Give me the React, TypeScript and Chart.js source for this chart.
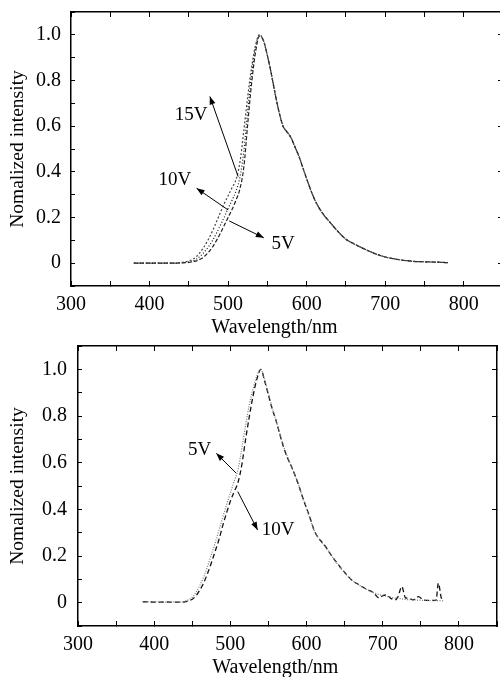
import React, { useEffect, useRef } from 'react';
import { Chart, registerables } from 'chart.js';

Chart.register(...registerables);

// ---------- data ----------
const topWavelengths = [380, 390, 400, 410, 420, 430, 440, 445, 450, 455, 460, 465, 470, 475, 480, 485, 490, 495, 500, 505, 510, 515, 520, 525, 530, 535, 540, 545, 550, 555, 560, 565, 570, 575, 580, 585, 590, 595, 600, 610, 620, 630, 640, 650, 660, 670, 680, 690, 700, 710, 720, 730, 740, 750, 760, 770, 780];
const top15V = [0, 0, 0, 0, 0, 0, 0.003, 0.005, 0.01, 0.017, 0.03, 0.05, 0.075, 0.105, 0.14, 0.18, 0.22, 0.26, 0.295, 0.33, 0.365, 0.44, 0.58, 0.73, 0.86, 0.955, 1.0, 0.975, 0.91, 0.83, 0.74, 0.66, 0.6, 0.575, 0.55, 0.51, 0.47, 0.42, 0.37, 0.28, 0.22, 0.178, 0.138, 0.105, 0.085, 0.068, 0.052, 0.038, 0.027, 0.02, 0.014, 0.01, 0.007, 0.006, 0.005, 0.004, 0.002];
const top10V = [0, 0, 0, 0, 0, 0, 0.002, 0.003, 0.006, 0.01, 0.018, 0.032, 0.05, 0.072, 0.098, 0.13, 0.165, 0.2, 0.24, 0.275, 0.315, 0.375, 0.49, 0.67, 0.83, 0.945, 1.0, 0.975, 0.91, 0.83, 0.74, 0.66, 0.6, 0.575, 0.55, 0.51, 0.47, 0.42, 0.37, 0.28, 0.22, 0.178, 0.138, 0.105, 0.085, 0.068, 0.052, 0.038, 0.027, 0.02, 0.014, 0.01, 0.007, 0.006, 0.005, 0.004, 0.002];
const top5V = [0, 0, 0, 0, 0, 0, 0.001, 0.002, 0.003, 0.006, 0.01, 0.018, 0.03, 0.048, 0.07, 0.098, 0.13, 0.165, 0.2, 0.235, 0.275, 0.325, 0.42, 0.61, 0.79, 0.925, 0.995, 0.975, 0.91, 0.83, 0.74, 0.66, 0.6, 0.575, 0.55, 0.51, 0.47, 0.42, 0.37, 0.28, 0.22, 0.178, 0.138, 0.105, 0.085, 0.068, 0.052, 0.038, 0.027, 0.02, 0.014, 0.01, 0.007, 0.006, 0.005, 0.004, 0.002];

const bottomWavelengths = [385, 395, 405, 415, 425, 435, 445, 450, 455, 460, 465, 470, 475, 480, 485, 490, 495, 500, 505, 510, 515, 520, 525, 530, 535, 540, 545, 550, 555, 560, 565, 570, 575, 580, 585, 590, 595, 600, 605, 610, 615, 620, 625, 630, 640, 650, 660, 670, 680, 686, 690, 695, 700, 705, 710, 716, 720, 725, 730, 734, 740, 747, 753, 760, 765, 770, 773, 777, 780];
const bottom5V = [0.004, 0.004, 0.003, 0.002, 0.003, 0.003, 0.012, 0.022, 0.045, 0.075, 0.11, 0.155, 0.205, 0.255, 0.31, 0.365, 0.42, 0.47, 0.52, 0.57, 0.66, 0.76, 0.85, 0.92, 0.975, 1.0, 0.955, 0.895, 0.835, 0.78, 0.725, 0.67, 0.625, 0.585, 0.545, 0.5, 0.45, 0.405, 0.355, 0.31, 0.28, 0.26, 0.238, 0.215, 0.168, 0.128, 0.095, 0.073, 0.055, 0.045, 0.04, 0.035, 0.03, 0.028, 0.024, 0.02, 0.018, 0.016, 0.014, 0.013, 0.012, 0.011, 0.01, 0.009, 0.009, 0.009, 0.009, 0.008, 0.008];
const bottom10V = [0.004, 0.003, 0.002, 0.003, 0.002, 0.002, 0.008, 0.015, 0.03, 0.055, 0.085, 0.125, 0.17, 0.22, 0.27, 0.33, 0.385, 0.435, 0.475, 0.515, 0.59, 0.7, 0.8, 0.89, 0.96, 1.0, 0.95, 0.89, 0.83, 0.78, 0.72, 0.665, 0.62, 0.585, 0.545, 0.5, 0.45, 0.405, 0.36, 0.31, 0.28, 0.26, 0.24, 0.215, 0.17, 0.13, 0.095, 0.075, 0.055, 0.047, 0.035, 0.02, 0.03, 0.033, 0.02, 0.012, 0.025, 0.069, 0.02, 0.019, 0.012, 0.026, 0.012, 0.01, 0.01, 0.01, 0.083, 0.019, 0.01];

const xTitle = 'Wavelength/nm';
const yTitle = 'Nomalized intensity';

const topNotes = [
  { text: '15V', labelX: 453, labelY: 0.65, tailX: 512.8, tailY: 0.379, headX: 476.8, headY: 0.73 },
  { text: '10V', labelX: 432.3, labelY: 0.365, tailX: 500.1, tailY: 0.233, headX: 459.9, headY: 0.328 },
  { text: '5V', labelX: 570.1, labelY: 0.084, tailX: 501.4, tailY: 0.185, headX: 545.5, headY: 0.111 },
];
const bottomNotes = [
  { text: '5V', labelX: 459.7, labelY: 0.655, tailX: 507.6, tailY: 0.555, headX: 481.5, headY: 0.64 },
  { text: '10V', labelX: 562.8, labelY: 0.311, tailX: 509.7, tailY: 0.476, headX: 535.8, headY: 0.311 },
];

// ---------- styling ----------
const SERIF = "'Liberation Serif', 'Times New Roman', serif";

const notesPlugin = {
  id: 'notes',
  afterDatasetsDraw(chart: any, _args: any, opts: any) {
    const { ctx } = chart;
    const xs = chart.scales.x;
    const ys = chart.scales.y;
    ctx.save();
    ctx.fillStyle = '#000';
    ctx.strokeStyle = '#000';
    ctx.font = `19px ${SERIF}`;
    ctx.textAlign = 'center';
    ctx.textBaseline = 'middle';
    for (const n of opts.notes || []) {
      ctx.fillText(n.text, xs.getPixelForValue(n.labelX), ys.getPixelForValue(n.labelY));
      const tx = xs.getPixelForValue(n.tailX);
      const ty = ys.getPixelForValue(n.tailY);
      const hx = xs.getPixelForValue(n.headX);
      const hy = ys.getPixelForValue(n.headY);
      ctx.lineWidth = 1;
      ctx.beginPath();
      ctx.moveTo(tx, ty);
      ctx.lineTo(hx, hy);
      ctx.stroke();
      const a = Math.atan2(hy - ty, hx - tx);
      const L = 8;
      const W = 3;
      const c = Math.cos(a);
      const s = Math.sin(a);
      ctx.beginPath();
      ctx.moveTo(hx, hy);
      ctx.lineTo(hx - L * c + W * s, hy - L * s - W * c);
      ctx.lineTo(hx - L * c - W * s, hy - L * s + W * c);
      ctx.closePath();
      ctx.fill();
    }
    ctx.font = `20px ${SERIF}`;
    ctx.textBaseline = 'alphabetic';
    ctx.fillText(xTitle, xs.getPixelForValue(opts.titleAt), chart.chartArea.bottom + opts.titleOffset);
    ctx.restore();
  },
};

function makeConfig(p: any): any {
  const tickFont = { family: SERIF, size: 20 };
  const axisBorder = { display: true, color: '#000', width: 1.5 };
  return {
    type: 'line',
    data: { datasets: p.datasets },
    plugins: [notesPlugin],
    options: {
      responsive: false,
      animation: false,
      devicePixelRatio: 1,
      layout: { padding: p.padding },
      events: [],
      plugins: {
        legend: { display: false },
        tooltip: { enabled: false },
        notes: { notes: p.notes, titleAt: 559, titleOffset: 47 },
      },
      elements: {
        point: { radius: 0 },
        line: { cubicInterpolationMode: 'monotone', borderCapStyle: 'butt' },
      },
      scales: {
        x: {
          type: 'linear',
          position: 'bottom',
          min: 300,
          max: 850,
          ticks: {
            stepSize: 50,
            autoSkip: false,
            maxRotation: 0,
            padding: p.xTickPad,
            color: '#000',
            font: tickFont,
            callback: (v: number) => (Math.round(v) % 100 === 0 ? String(Math.round(v)) : ''),
          },
          grid: { drawOnChartArea: false, tickLength: -5, color: '#000', tickWidth: 1 },
          border: axisBorder,
          afterFit: (s: any) => {
            s.height = p.xAxisHeight;
            s.paddingLeft = 0;
            s.paddingRight = 0;
          },
        },
        x2: {
          type: 'linear',
          position: 'top',
          min: 300,
          max: 850,
          ticks: { stepSize: 50, display: false },
          grid: { drawOnChartArea: false, tickLength: -5, color: '#000', tickWidth: 1 },
          border: axisBorder,
          afterFit: (s: any) => {
            s.height = 0;
            s.paddingLeft = 0;
            s.paddingRight = 0;
          },
        },
        y: {
          type: 'linear',
          position: 'left',
          min: -0.1,
          max: 1.1,
          ticks: {
            stepSize: 0.1,
            autoSkip: false,
            padding: p.yTickPad,
            color: '#000',
            font: tickFont,
            callback: (v: number) => {
              const k = Math.round(v * 10);
              if (k < 0 || k > 10 || k % 2 !== 0) return '';
              return k === 0 ? '0' : (k / 10).toFixed(1);
            },
          },
          grid: { drawOnChartArea: false, tickLength: -4, color: '#000', tickWidth: 1 },
          border: axisBorder,
          title: {
            display: true,
            text: yTitle,
            color: '#000',
            font: { family: SERIF, size: 19.5 },
            padding: { top: 6, bottom: 0 },
          },
          afterFit: (s: any) => {
            s.width = p.yAxisWidth;
            s.paddingTop = 0;
            s.paddingBottom = 0;
          },
        },
        y2: {
          type: 'linear',
          position: 'right',
          min: -0.1,
          max: 1.1,
          ticks: { stepSize: 0.1, display: false },
          grid: {
            drawOnChartArea: false,
            tickLength: -5,
            tickWidth: 1,
            color: '#000',
            tickColor: (c: any) =>
              c.tick && Math.round(c.tick.value * 10) % 2 === 0 ? '#000' : 'rgba(0,0,0,0)',
          },
          border: axisBorder,
          afterFit: (s: any) => {
            s.width = 0;
            s.paddingTop = 0;
            s.paddingBottom = 0;
          },
        },
      },
    },
  };
}

const toPoints = (xs: number[], ys: number[]) => xs.map((x, i) => ({ x, y: ys[i] }));

function Panel(props: { top: number; width: number; height: number; config: any }) {
  const ref = useRef<HTMLCanvasElement | null>(null);
  useEffect(() => {
    if (!ref.current) return;
    const chart = new Chart(ref.current, props.config);
    return () => chart.destroy();
  }, []);
  return (
    <div
      style={{
        position: 'absolute',
        left: 0,
        top: props.top,
        width: 500,
        height: props.height,
        overflow: 'hidden',
        background: '#fff',
      }}
    >
      <canvas
        ref={ref}
        width={props.width}
        height={props.height}
        style={{ display: 'block', width: props.width, height: props.height }}
      />
    </div>
  );
}

export default function App() {
  const topConfig = makeConfig({
    padding: { top: 12, right: 7, left: 0, bottom: 0 },
    yAxisWidth: 71,
    xAxisHeight: 54,
    xTickPad: 12,
    yTickPad: 14,
    notes: topNotes,
    datasets: [
      { label: '15V', data: toPoints(topWavelengths, top15V), borderColor: '#444', borderWidth: 1.2, borderDash: [2, 2] },
      { label: '10V', data: toPoints(topWavelengths, top10V), borderColor: '#111', borderWidth: 1.2, borderDash: [1, 2] },
      { label: '5V', data: toPoints(topWavelengths, top5V), borderColor: '#222', borderWidth: 1.2, borderDash: [4, 2] },
    ],
  });
  const bottomConfig = makeConfig({
    padding: { top: 6, right: 3, left: 0, bottom: 0 },
    yAxisWidth: 78,
    xAxisHeight: 51,
    xTickPad: 12,
    yTickPad: 15,
    notes: bottomNotes,
    datasets: [
      { label: '5V', data: toPoints(bottomWavelengths, bottom5V), borderColor: '#777', borderWidth: 1.2, borderDash: [1, 1.5] },
      { label: '10V', data: toPoints(bottomWavelengths, bottom10V), borderColor: '#111', borderWidth: 1.3, borderDash: [5, 3] },
    ],
  });
  return (
    <div>
      <Panel top={0} width={510} height={340} config={topConfig} />
      <Panel top={340} width={500} height={337} config={bottomConfig} />
    </div>
  );
}
